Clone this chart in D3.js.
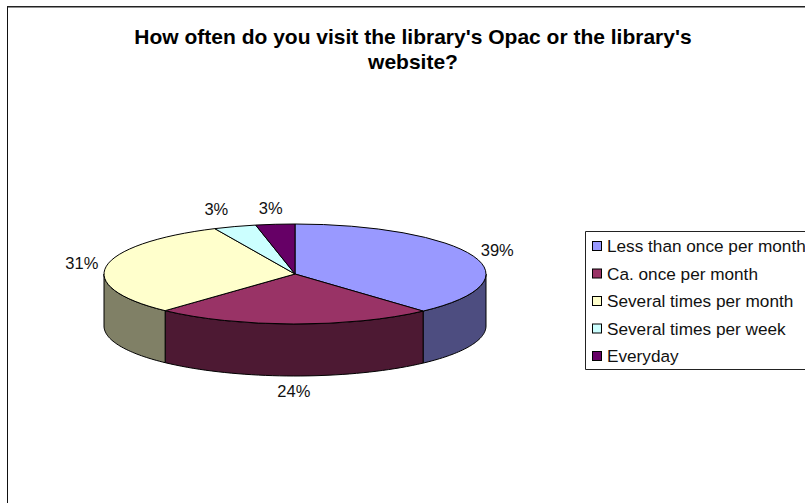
<!DOCTYPE html>
<html>
<head>
<meta charset="utf-8">
<script src="https://cdn.jsdelivr.net/npm/d3@7"></script>
<style>
  html, body { margin:0; padding:0; background:#fff; overflow:hidden; }
  svg { display:block; font-family:"Liberation Sans", Arial, sans-serif; }
</style>
</head>
<body>
<svg id="chart" width="805" height="503"></svg>
<script>
const categories = ['Less than once per month','Ca. once per month','Several times per month','Several times per week','Everyday'];
const shares = [38.3, 23.6, 31.2, 3.6, 3.3];
const pctLabels = ['39%','24%','31%','3%','3%'];
const topColors = ['#9999ff','#993366','#ffffcc','#ccffff','#660066'];
const wallColors = ['#4d4d80','#4d1933','#808066','#668080','#330033'];
const titleLines = ["How often do you visit the library's Opac or the library's","website?"];

const svg = d3.select('#chart');

// frame runs off the right and bottom of the crop
svg.append('path').attr('d','M7.5,503V6').attr('fill','none').attr('stroke','#111').attr('stroke-width',1);
svg.append('path').attr('d','M7,6.8H805').attr('fill','none').attr('stroke','#222').attr('stroke-width',1.5);

svg.selectAll('text.title').data(titleLines).join('text')
  .attr('class','title')
  .attr('x',413).attr('y',(d,i)=>44+i*25)
  .attr('text-anchor','middle')
  .attr('font-size',21).attr('font-weight','bold').attr('fill','#000')
  .text(d=>d);

// --- pie ---------------------------------------------------------------------
const cx = 295, cy = 274, rx = 191, ry = 50, depth = 52;
const pie = d3.pie().sort(null)(shares);
const ex = a => cx + rx*Math.sin(a);
const ey = a => cy - ry*Math.cos(a);

// walls only show on the front half of the ellipse
const line = d3.line();
const walls = svg.append('g');
pie.forEach((s,i)=>{
  const a0 = Math.max(s.startAngle, Math.PI/2), a1 = Math.min(s.endAngle, Math.PI*1.5);
  if (a1 <= a0) return;
  const top = d3.range(0,41).map(k=>a0+(a1-a0)*k/40);
  const pts = top.map(a=>[ex(a),ey(a)]).concat(top.slice().reverse().map(a=>[ex(a),ey(a)+depth]));
  walls.append('path').attr('d',line(pts)+'Z')
    .attr('fill',wallColors[i]).attr('stroke','#000').attr('stroke-width',1).attr('stroke-linejoin','round');
});

const arc = d3.arc().innerRadius(0).outerRadius(rx);
const tops = svg.append('g').attr('transform',`translate(${cx},${cy}) scale(1,${ry/rx})`);
tops.selectAll('path').data(pie).join('path')
  .attr('d',arc)
  .attr('fill',(d,i)=>topColors[i])
  .attr('stroke','#000').attr('stroke-width',1)
  .attr('vector-effect','non-scaling-stroke');

// data labels, pushed outward along the ellipse
const labelOffsets = [[24,-4],[0,69],[-24.5,-2],[-18.5,-16],[-4.5,-15]];
svg.selectAll('text.pct').data(pie).join('text')
  .attr('class','pct')
  .attr('x',(d,i)=>ex((d.startAngle+d.endAngle)/2)+labelOffsets[i][0])
  .attr('y',(d,i)=>ey((d.startAngle+d.endAngle)/2)+labelOffsets[i][1])
  .attr('text-anchor','middle').attr('dominant-baseline','middle')
  .attr('font-size',16.5).attr('fill','#111')
  .text((d,i)=>pctLabels[i]);

// --- legend ------------------------------------------------------------------
const y = d3.scalePoint().domain(categories).range([246,356]);
svg.append('path').attr('d','M805,231.5H585.5V369.5H805').attr('fill','#fff').attr('stroke','#222');
const items = svg.selectAll('g.item').data(categories).join('g')
  .attr('class','item').attr('transform',d=>`translate(0,${y(d)})`);
items.append('rect').attr('x',592.5).attr('y',-4.5).attr('width',9).attr('height',9)
  .attr('fill',(d,i)=>topColors[i]).attr('stroke','#000');
items.append('text').attr('x',607).attr('y',6).attr('font-size',17.2).attr('fill','#111').text(d=>d);
</script>
</body>
</html>
